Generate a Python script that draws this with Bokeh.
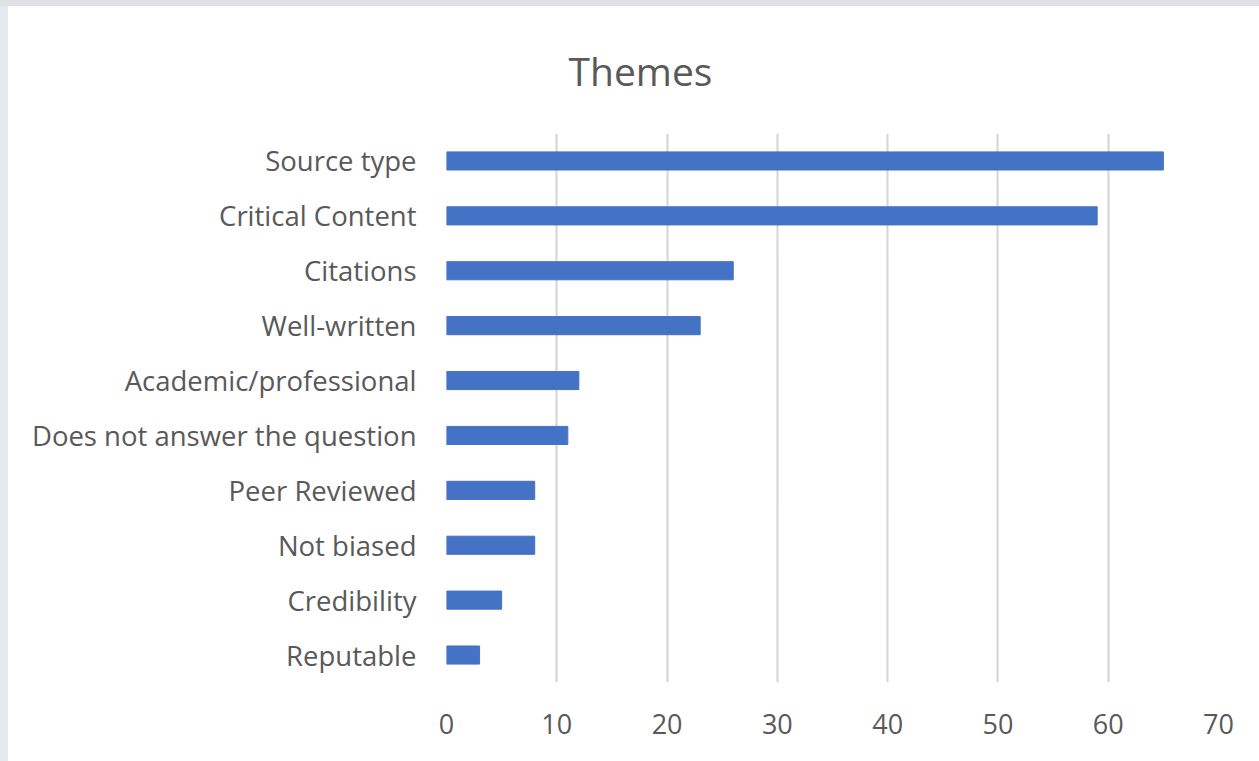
from bokeh.plotting import figure
from bokeh.models import Range1d, FactorRange, FixedTicker, Spacer
from bokeh.layouts import column, row
from bokeh.embed import file_html
from bokeh.resources import INLINE

categories = ["Source type", "Critical Content", "Citations", "Well-written",
              "Academic/professional", "Does not answer the question",
              "Peer Reviewed", "Not biased", "Credibility", "Reputable"]
counts = [65, 59, 26, 23, 12, 11, 8, 8, 5, 3]
x_ticks = [0, 10, 20, 30, 40, 50, 60, 70]

FONT = "Open Sans"
TXT = "#595959"

p = figure(width=1251, height=755, output_backend="svg", toolbar_location=None,
           y_range=FactorRange(factors=list(reversed(categories)), range_padding=0),
           x_range=Range1d(0, 70),
           min_border_left=438, min_border_right=41, min_border_top=127, min_border_bottom=79)

p.hbar(y=categories, right=counts, left=0, height=0.33, color="#4472C4")

p.title.text = "Themes"
p.title.text_font = FONT
p.title.text_font_size = "39px"
p.title.text_font_style = "normal"
p.title.text_color = TXT
p.title.align = "left"
p.title.vertical_align = "top"
p.title.offset = 122
p.title.standoff = 70

p.outline_line_color = None
p.background_fill_color = "white"
p.border_fill_color = "white"

p.xaxis.ticker = FixedTicker(ticks=x_ticks)
p.xaxis.axis_line_color = None
p.xaxis.major_tick_line_color = None
p.xaxis.minor_tick_line_color = None
p.xaxis.major_label_text_font = FONT
p.xaxis.major_label_text_font_size = "27px"
p.xaxis.major_label_text_color = TXT
p.xaxis.major_label_standoff = 25

p.yaxis.axis_line_color = None
p.yaxis.major_tick_line_color = None
p.yaxis.major_tick_out = 0
p.yaxis.major_label_text_font = FONT
p.yaxis.major_label_text_font_size = "27.5px"
p.yaxis.major_label_text_color = TXT
p.yaxis.major_label_standoff = 30

p.xgrid.grid_line_color = "#d4d4d4"
p.xgrid.grid_line_width = 2
p.ygrid.grid_line_color = None

top = Spacer(width=1259, height=6, styles={"background-color": "#dfe1e4"})
left = Spacer(width=8, height=755, styles={"background-color": "#e6e9ed"})
layout = column(top, row(left, p))

open("out.html", "w").write(file_html(layout, INLINE))
